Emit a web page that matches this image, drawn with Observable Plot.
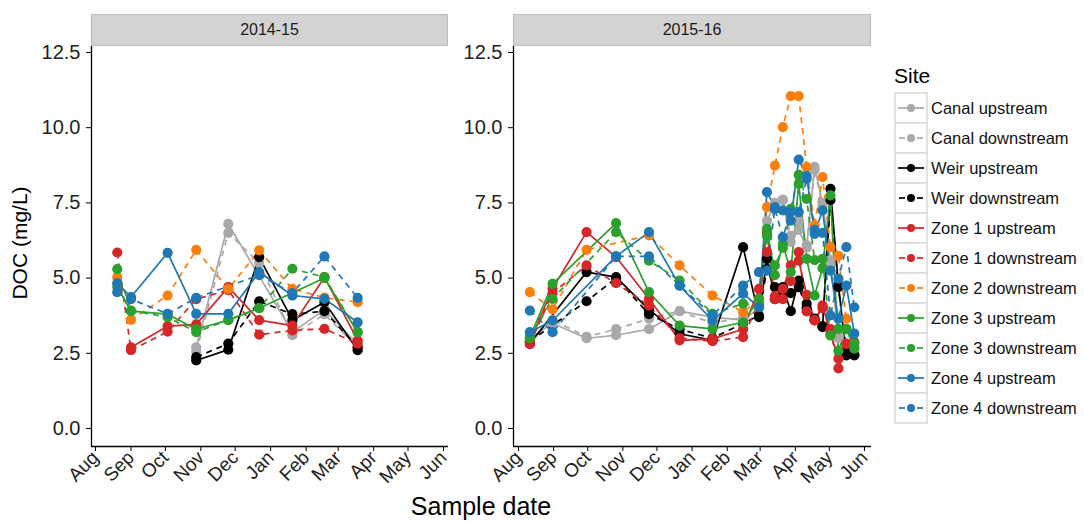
<!DOCTYPE html>
<html>
<head>
<meta charset="utf-8">
<script src="https://cdn.jsdelivr.net/npm/d3@7"></script>
<script src="https://cdn.jsdelivr.net/npm/@observablehq/plot@0.6"></script>
<style>
  body { margin: 0; background: #fff; font-family: "Liberation Sans", Arial, sans-serif; }
  #wrap { position: relative; width: 1084px; height: 522px; overflow: hidden; background: #fff; }
  .strip { position: absolute; top: 14px; height: 32px; background: #d3d3d3; border: 1px solid #bdbdbd;
           box-sizing: border-box; text-align: center; line-height: 30px; font-size: 16px; color: #1a1a1a; }
  .panel { position: absolute; top: 46px; }
  .panel svg text { fill: #222; }
  #ytitle { position: absolute; left: 20px; top: 243px; transform: translate(-50%, -50%) rotate(-90deg);
            white-space: nowrap; font-size: 21px; color: #000; }
  #xtitle { position: absolute; left: 481px; top: 492px; transform: translateX(-50%);
            white-space: nowrap; font-size: 25px; color: #000; }
  #legend { position: absolute; left: 894px; top: 64px; }
  #legend .title { font-size: 21px; color: #000; margin-bottom: 4px; }
</style>
</head>
<body>
<div id="wrap">
  <div class="strip" style="left:91px;width:357px">2014-15</div>
  <div class="strip" style="left:513px;width:358px">2015-16</div>
  <div class="panel" id="pA" style="left:0px"></div>
  <div class="panel" id="pB" style="left:450px"></div>
  <div id="ytitle">DOC (mg/L)</div>
  <div id="xtitle">Sample date</div>
  <div id="legend"><div class="title">Site</div><div id="keys"></div></div>
</div>
<script>
// ---------- categories ----------
const sites = ["Canal upstream","Canal downstream","Weir upstream","Weir downstream",
  "Zone 1 upstream","Zone 1 downstream","Zone 2 downstream","Zone 3 upstream",
  "Zone 3 downstream","Zone 4 upstream","Zone 4 downstream"];
const siteColors = ["#a9a9a9","#a9a9a9","#000000","#000000","#d62728","#d62728",
  "#ff7f0e","#2ca02c","#2ca02c","#1f77b4","#1f77b4"];
const yTicks = [0, 2.5, 5, 7.5, 10, 12.5];
const facetLabels = ["2014-15", "2015-16"];

// ---------- 2014-15 ----------
const datesA = ["2014-08-20","2014-09-01","2014-10-03","2014-10-28","2014-11-25","2014-12-22","2015-01-20","2015-02-17","2015-03-18"];
const canalUpA   = [null,null,null,2.7,6.8,null,3.2,3.95,2.8];
const canalDownA = [null,null,null,2.55,6.5,5.5,3.1,3.8,2.7];
const weirUpA    = [null,null,null,2.26,2.62,5.7,3.6,4.2,2.6];
const weirDownA  = [null,null,null,2.37,2.82,4.23,3.8,3.9,2.7];
const zone1UpA   = [null,2.7,3.4,3.46,4.7,3.6,3.42,5.03,2.93];
const zone1DownA = [5.85,2.6,3.22,4.3,4.6,3.12,3.26,3.31,2.82];
const zone2DownA = [5.03,3.61,4.42,5.94,4.64,5.92,4.64,4.35,4.2];
const zone3UpA   = [4.7,3.9,3.8,3.3,3.6,4.0,null,5.0,3.2];
const zone3DownA = [5.3,3.92,3.7,3.2,3.61,4.0,5.31,5.03,3.2];
const zone4UpA   = [4.83,4.37,5.84,3.81,3.81,5.2,4.42,4.31,3.53];
const zone4DownA = [4.53,4.3,3.81,4.34,null,5.1,4.5,5.72,4.34];

// ---------- 2015-16 ----------
const datesB = ["2015-08-11","2015-08-31","2015-09-30","2015-10-26","2015-11-24","2015-12-21","2016-01-19","2016-02-15",
  "2016-02-29","2016-03-07","2016-03-14","2016-03-21","2016-03-28","2016-04-04","2016-04-11","2016-04-18","2016-04-25",
  "2016-05-02","2016-05-09","2016-05-16","2016-05-23"];
const canalUpB   = [3.0,3.5,3.0,3.1,3.3,3.9,3.7,3.6,4.0,6.9,7.5,7.6,6.2,6.6,6.0,8.7,7.5,5.6,3.0,null,null];
const canalDownB = [2.9,3.6,3.05,3.3,3.65,3.9,3.5,3.7,4.2,6.6,7.3,7.6,6.4,6.9,6.1,8.6,7.4,5.5,3.1,null,null];
const weirUpB    = [2.82,null,5.2,5.03,3.95,3.15,2.93,6.03,3.7,5.64,4.3,4.7,3.9,4.92,4.15,3.65,3.37,7.97,4.75,2.43,2.43];
const weirDownB  = [2.9,null,4.23,5.0,3.8,3.3,3.0,3.5,3.75,5.3,4.7,4.5,4.5,4.7,4.0,3.6,3.4,7.6,4.7,2.6,2.45];
const zone1UpB   = [2.9,4.65,6.53,5.7,4.31,2.93,2.98,3.3,4.64,6.5,4.3,4.64,5.42,5.58,4.44,3.59,4.09,3.15,2.32,2.82,2.87];
const zone1DownB = [2.8,4.5,5.42,4.83,4.09,3.0,2.9,3.04,4.2,5.86,4.4,4.3,4.9,5.86,3.89,3.6,4.0,3.3,2.0,2.8,2.7];
const zone2DownB = [4.53,3.96,5.94,null,6.42,5.42,4.42,3.87,4.3,7.36,8.74,10.02,11.05,11.05,8.69,6.75,8.36,6.03,5.74,3.65,null];
const zone3UpB   = [3.04,4.81,null,6.83,4.53,3.42,3.31,3.53,4.31,6.64,5.1,6.14,5.2,8.13,5.64,4.42,5.33,7.75,2.59,3.31,2.65];
const zone3DownB = [3.0,4.31,null,6.53,5.58,4.92,3.81,4.15,4.1,6.4,5.42,6.0,7.3,8.43,7.63,5.6,5.64,3.09,3.31,3.3,2.82];
const zone4UpB   = [3.2,3.59,null,5.72,6.53,4.75,3.59,4.48,4.03,7.86,7.36,7.25,6.91,8.94,8.39,6.47,7.25,5.25,3.65,4.75,3.15];
const zone4DownB = [3.92,3.2,null,5.72,5.72,4.75,3.76,4.75,5.2,5.25,7.3,6.36,7.2,7.19,8.3,6.6,6.5,3.76,4.98,6.03,4.03];

const seriesA = [canalUpA,canalDownA,weirUpA,weirDownA,zone1UpA,zone1DownA,zone2DownA,zone3UpA,zone3DownA,zone4UpA,zone4DownA];
const seriesB = [canalUpB,canalDownB,weirUpB,weirDownB,zone1UpB,zone1DownB,zone2DownB,zone3UpB,zone3DownB,zone4UpB,zone4DownB];

const parse = d3.utcParse("%Y-%m-%d");
function build(dates, series) {
  const rows = [];
  sites.forEach((s, i) => series[i].forEach((v, j) => {
    if (v != null) rows.push({site: s, date: parse(dates[j]), value: v});
  }));
  return rows;
}

const yDomain = [-0.6, 12.7];
const font = '"Liberation Sans", Arial, sans-serif';

function panel(rows, xDomain, monthTicks, width, marginLeft, marginRight) {
  const marks = [];
  sites.forEach(s => {
    marks.push(Plot.line(rows.filter(r => r.site === s), {
      x: "date", y: "value", stroke: "site", strokeWidth: 1.7,
      strokeLinecap: "butt", strokeLinejoin: "round",
      strokeDasharray: s.includes("downstream") ? "6,5" : "none"
    }));
  });
  marks.push(Plot.dot(rows, {x: "date", y: "value", fill: "site", r: 5.1}));
  marks.push(Plot.ruleX([xDomain[0]], {stroke: "#000", strokeWidth: 1.3}));
  marks.push(Plot.ruleY([yDomain[0]], {stroke: "#000", strokeWidth: 1.3}));
  marks.push(Plot.axisY({ticks: yTicks, tickFormat: d3.format(".1f"), tickSize: 5, tickPadding: 6,
    fontSize: 20, label: null, stroke: "#000"}));
  marks.push(Plot.axisX({ticks: monthTicks, tickFormat: d3.utcFormat("%b"), tickRotate: -45,
    tickSize: 5, tickPadding: 3, fontSize: 19, label: null, stroke: "#000"}));
  return Plot.plot({
    width, height: 476, marginTop: 0, marginBottom: 76, marginLeft, marginRight,
    x: {type: "utc", domain: xDomain},
    y: {domain: yDomain},
    color: {domain: sites, range: siteColors},
    style: {fontFamily: font, background: "transparent", overflow: "visible"},
    marks
  });
}

const ticksA = d3.utcMonth.range(parse("2014-08-01"), parse("2015-06-02"));
const ticksB = d3.utcMonth.range(parse("2015-08-01"), parse("2016-06-02"));
const domA = [new Date(Date.UTC(2014,6,28,12)), new Date(Date.UTC(2015,5,5,9))];
const domB = [new Date(Date.UTC(2015,6,27,14)), new Date(Date.UTC(2016,5,7,4))];

document.getElementById("pA").appendChild(panel(build(datesA, seriesA), domA, ticksA, 460, 91, 12));
document.getElementById("pB").appendChild(panel(build(datesB, seriesB), domB, ticksB, 430, 63, 9));

// ---------- legend ----------
const keyH = 30, keyW = 32;
const svg = d3.create("svg").attr("width", 190).attr("height", sites.length * keyH + 2)
  .style("font-family", font).style("overflow", "visible");
sites.forEach((s, i) => {
  const g = svg.append("g").attr("transform", `translate(1,${1 + i * keyH})`);
  g.append("rect").attr("width", keyW).attr("height", keyH).attr("fill", "#fff")
    .attr("stroke", "#d9d9d9").attr("stroke-width", 1.5);
  const c = siteColors[i], cy = keyH / 2;
  if (s.includes("downstream")) {
    g.append("line").attr("x1", 4).attr("x2", 10).attr("y1", cy).attr("y2", cy).attr("stroke", c).attr("stroke-width", 1.7);
    g.append("line").attr("x1", 22).attr("x2", 28).attr("y1", cy).attr("y2", cy).attr("stroke", c).attr("stroke-width", 1.7);
  } else {
    g.append("line").attr("x1", 3).attr("x2", 29).attr("y1", cy).attr("y2", cy).attr("stroke", c).attr("stroke-width", 1.7);
  }
  g.append("circle").attr("cx", keyW / 2).attr("cy", cy).attr("r", 4).attr("fill", c);
  g.append("text").attr("x", keyW + 4).attr("y", cy).attr("dy", "0.35em")
    .attr("font-size", 16.5).attr("fill", "#111").text(s);
});
document.getElementById("keys").appendChild(svg.node());
</script>
</body>
</html>
